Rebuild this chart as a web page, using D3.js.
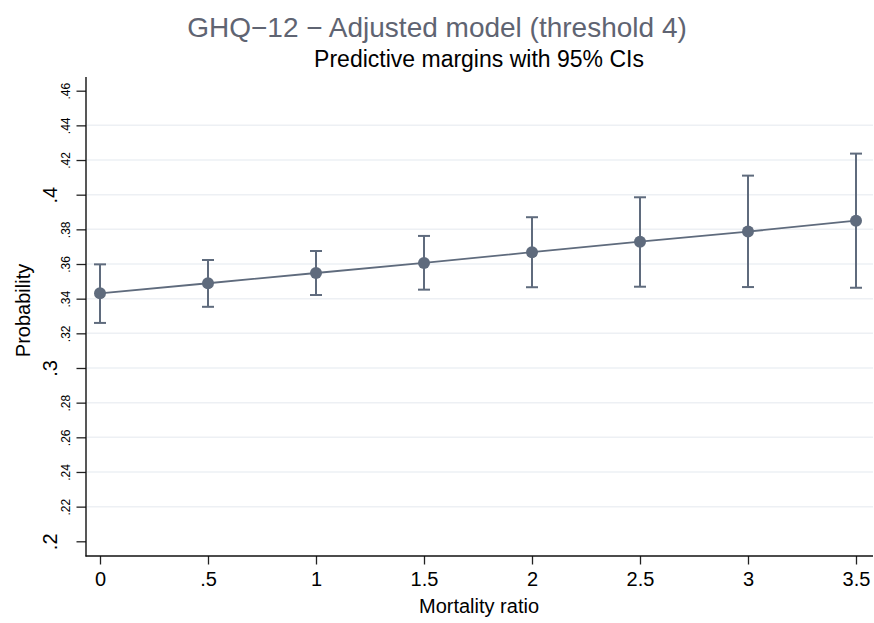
<!DOCTYPE html>
<html>
<head>
<meta charset="utf-8">
<script src="https://cdn.jsdelivr.net/npm/d3@7"></script>
<style>
  body { margin: 0; background: #fff; }
  text { font-family: "Liberation Sans", Arial, sans-serif; }
</style>
</head>
<body>
<script>
// Data
//##############################################

var mortality = [0, 0.5, 1, 1.5, 2, 2.5, 3, 3.5];
var margins = [0.3431, 0.3489, 0.3548, 0.3606, 0.3668, 0.3729, 0.3787, 0.3850];
var lower = [0.3260, 0.3353, 0.3421, 0.3452, 0.3466, 0.3469, 0.3467, 0.3463];
var upper = [0.3598, 0.3623, 0.3675, 0.3762, 0.3870, 0.3985, 0.4110, 0.4237];

var xTicks = [0, 0.5, 1, 1.5, 2, 2.5, 3, 3.5];
var xTickLabels = ["0", ".5", "1", "1.5", "2", "2.5", "3", "3.5"];
var yTicks = [0.2, 0.22, 0.24, 0.26, 0.28, 0.3, 0.32, 0.34, 0.36, 0.38, 0.4, 0.42, 0.44, 0.46];
var yTickLabels = [".2", ".22", ".24", ".26", ".28", ".3", ".32", ".34", ".36", ".38", ".4", ".42", ".44", ".46"];
var yMajor = [".2", ".3", ".4"];

var markColor = "#5f6b7d";

// Svg and scales
//##############################################

var svg = d3.select("body").append("svg")
  .attr("width", 874)
  .attr("height", 623);

var x = d3.scaleLinear().domain([0, 3.5]).range([100, 856]);
var y = d3.scaleLinear().domain([0.2, 0.46]).range([541.3, 90.7]);

// Titles
//##############################################

svg.append("text")
  .attr("x", 437)
  .attr("y", 37)
  .attr("text-anchor", "middle")
  .style("font-size", "28px")
  .style("fill", "#5f6472")
  .text("GHQ\u221212 \u2212 Adjusted model (threshold 4)");

svg.append("text")
  .attr("x", 479)
  .attr("y", 67)
  .attr("text-anchor", "middle")
  .style("font-size", "23px")
  .style("fill", "#000")
  .text("Predictive margins with 95% CIs");

// Grid lines
//##############################################

svg.append("g").selectAll("line")
  .data(yTicks.filter(function(d) { return d > 0.2 && d < 0.46; }))
  .enter()
  .append("line")
  .attr("x1", 87)
  .attr("x2", 873)
  .attr("y1", function(d) { return y(d); })
  .attr("y2", function(d) { return y(d); })
  .style("stroke", "#edf0f4")
  .style("stroke-width", 1.5);

// Axes
//##############################################

var yAxis = svg.append("g")
  .attr("transform", "translate(86,0)")
  .call(d3.axisLeft(y).tickValues(yTicks).tickSize(9.5).tickSizeOuter(0)
    .tickFormat(function(d, i) { return yTickLabels[i]; }));

yAxis.select(".domain").remove();
yAxis.selectAll(".tick line").style("stroke", "#222").style("stroke-width", 1.3);
yAxis.selectAll(".tick text")
  .attr("x", null)
  .attr("dy", null)
  .attr("text-anchor", "middle")
  .style("fill", "#000")
  .attr("transform", function(d, i) {
    var big = yMajor.indexOf(yTickLabels[i]) >= 0;
    return "rotate(-90) translate(0," + (big ? -29 : -16) + ")";
  })
  .attr("y", 0)
  .style("font-size", function(d, i) {
    return yMajor.indexOf(yTickLabels[i]) >= 0 ? "20px" : "12px";
  });

var xAxis = svg.append("g")
  .attr("transform", "translate(0,556)")
  .call(d3.axisBottom(x).tickValues(xTicks).tickSize(8.5).tickSizeOuter(0)
    .tickFormat(function(d, i) { return xTickLabels[i]; }));

xAxis.select(".domain").remove();
xAxis.selectAll(".tick line").style("stroke", "#222").style("stroke-width", 1.3);
xAxis.selectAll(".tick text")
  .attr("y", 30)
  .attr("dy", null)
  .style("fill", "#000")
  .style("font-size", "20px");

svg.append("line")
  .attr("x1", 86).attr("x2", 86)
  .attr("y1", 77).attr("y2", 556.5)
  .style("stroke", "#111").style("stroke-width", 1.4);

svg.append("line")
  .attr("x1", 85.5).attr("x2", 873)
  .attr("y1", 556).attr("y2", 556)
  .style("stroke", "#111").style("stroke-width", 1.4);

svg.append("text")
  .attr("transform", "translate(29.5,310.5) rotate(-90)")
  .attr("text-anchor", "middle")
  .style("font-size", "20px")
  .text("Probability");

svg.append("text")
  .attr("x", 479)
  .attr("y", 613)
  .attr("text-anchor", "middle")
  .style("font-size", "20px")
  .text("Mortality ratio");

// Error bars, line and markers
//##############################################

var bars = svg.append("g").selectAll("g")
  .data(mortality)
  .enter()
  .append("g");

bars.append("line")
  .attr("x1", function(d) { return x(d); })
  .attr("x2", function(d) { return x(d); })
  .attr("y1", function(d, i) { return y(lower[i]); })
  .attr("y2", function(d, i) { return y(upper[i]); })
  .style("stroke", markColor)
  .style("stroke-width", 2);

bars.append("line")
  .attr("x1", function(d) { return x(d) - 6; })
  .attr("x2", function(d) { return x(d) + 6; })
  .attr("y1", function(d, i) { return y(lower[i]); })
  .attr("y2", function(d, i) { return y(lower[i]); })
  .style("stroke", markColor)
  .style("stroke-width", 2);

bars.append("line")
  .attr("x1", function(d) { return x(d) - 6; })
  .attr("x2", function(d) { return x(d) + 6; })
  .attr("y1", function(d, i) { return y(upper[i]); })
  .attr("y2", function(d, i) { return y(upper[i]); })
  .style("stroke", markColor)
  .style("stroke-width", 2);

var line = d3.line()
  .x(function(d) { return x(d); })
  .y(function(d, i) { return y(margins[i]); });

svg.append("path")
  .datum(mortality)
  .attr("d", line)
  .style("fill", "none")
  .style("stroke", markColor)
  .style("stroke-width", 1.8);

svg.append("g").selectAll("circle")
  .data(mortality)
  .enter()
  .append("circle")
  .attr("cx", function(d) { return x(d); })
  .attr("cy", function(d, i) { return y(margins[i]); })
  .attr("r", 6)
  .style("fill", markColor);
</script>
</body>
</html>
